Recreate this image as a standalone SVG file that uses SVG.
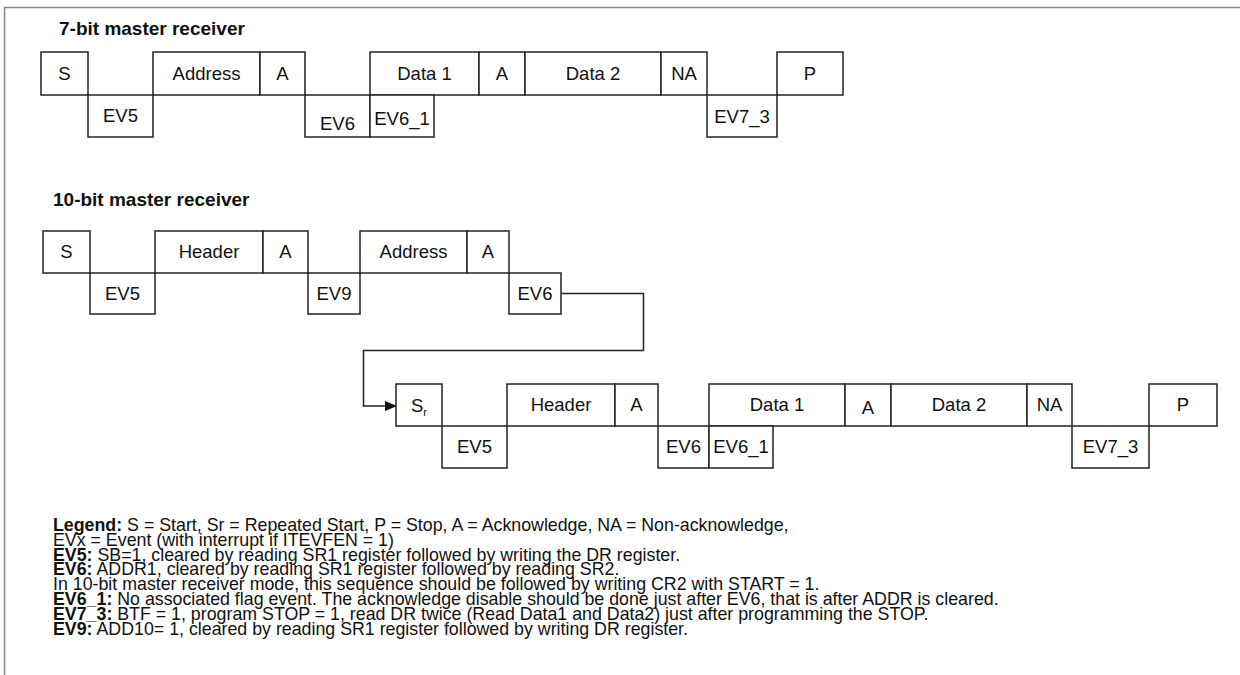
<svg xmlns="http://www.w3.org/2000/svg" width="1240" height="675" viewBox="0 0 1240 675">
<style>
text{font-family:"Liberation Sans",Arial,sans-serif;fill:#111}
.t{font-size:19px;font-weight:bold}
.b{fill:#fff;stroke:#222;stroke-width:1.5}
.l{font-size:18.5px;text-anchor:middle}
.g{font-size:17.8px}
.g tspan.k{font-weight:bold}
.c{fill:none;stroke:#222;stroke-width:1.5}
</style>
<defs>
<marker id="ah" markerWidth="12" markerHeight="10" refX="11" refY="5" orient="auto" markerUnits="userSpaceOnUse">
<path d="M0,0 L12,5 L0,10 z" fill="#111"/>
</marker>
</defs>
<rect x="0" y="0" width="1240" height="675" fill="#fff"/>
<path d="M4.5,675 V7.5 H1240" fill="none" stroke="#888" stroke-width="1.5"/>

<text class="t" x="59" y="35">7-bit master receiver</text>
<g id="r1">
<g id="r1-S"><rect class="b" x="41" y="52" width="47" height="43"/><text class="l" x="64.5" y="80">S</text></g>
<g id="r1-EV5"><rect class="b" x="88" y="95" width="65" height="42"/><text class="l" x="120.5" y="122">EV5</text></g>
<g id="r1-Address"><rect class="b" x="153" y="52" width="107" height="43"/><text class="l" x="206.5" y="80">Address</text></g>
<g id="r1-A1"><rect class="b" x="260" y="52" width="45" height="43"/><text class="l" x="282.5" y="80">A</text></g>
<g id="r1-EV6"><rect class="b" x="305" y="95" width="65" height="42"/><text class="l" x="337.5" y="130">EV6</text></g>
<g id="r1-Data1"><rect class="b" x="370" y="52" width="109" height="43"/><text class="l" x="424.5" y="80">Data 1</text></g>
<g id="r1-EV6_1"><rect class="b" x="370" y="95" width="64" height="42"/><text class="l" x="402" y="125">EV6_1</text></g>
<g id="r1-A2"><rect class="b" x="479" y="52" width="46" height="43"/><text class="l" x="502" y="80">A</text></g>
<g id="r1-Data2"><rect class="b" x="525" y="52" width="136" height="43"/><text class="l" x="593" y="80">Data 2</text></g>
<g id="r1-NA"><rect class="b" x="661" y="52" width="46" height="43"/><text class="l" x="684" y="80">NA</text></g>
<g id="r1-EV7_3"><rect class="b" x="707" y="95" width="70" height="42"/><text class="l" x="742" y="123">EV7_3</text></g>
<g id="r1-P"><rect class="b" x="777" y="52" width="66" height="43"/><text class="l" x="810" y="80">P</text></g>
</g>

<text class="t" x="53" y="206">10-bit master receiver</text>
<g id="r2">
<g id="r2-S"><rect class="b" x="43" y="231" width="47" height="42"/><text class="l" x="66.5" y="258">S</text></g>
<g id="r2-EV5"><rect class="b" x="90" y="273" width="65" height="41"/><text class="l" x="122.5" y="300">EV5</text></g>
<g id="r2-Header"><rect class="b" x="155" y="231" width="108" height="42"/><text class="l" x="209" y="258">Header</text></g>
<g id="r2-A1"><rect class="b" x="263" y="231" width="45" height="42"/><text class="l" x="285.5" y="258">A</text></g>
<g id="r2-EV9"><rect class="b" x="308" y="273" width="52" height="41"/><text class="l" x="334" y="300">EV9</text></g>
<g id="r2-Address"><rect class="b" x="360" y="231" width="107" height="42"/><text class="l" x="413.5" y="258">Address</text></g>
<g id="r2-A2"><rect class="b" x="467" y="231" width="42" height="42"/><text class="l" x="488" y="258">A</text></g>
<g id="r2-EV6"><rect class="b" x="509" y="273" width="52" height="41"/><text class="l" x="535" y="300">EV6</text></g>
</g>

<g id="connectors">
<path class="c" d="M561,293.5 H643.5 V350.5 H363.5 V406 H396" marker-end="url(#ah)"/>
</g>

<g id="r3">
<g id="r3-Sr"><rect class="b" x="396" y="384" width="46" height="42"/><text class="l" x="419" y="412">S<tspan font-size="11" dy="4">r</tspan></text></g>
<g id="r3-EV5"><rect class="b" x="442" y="426" width="65" height="42"/><text class="l" x="474.5" y="453">EV5</text></g>
<g id="r3-Header"><rect class="b" x="507" y="384" width="108" height="42"/><text class="l" x="561" y="411">Header</text></g>
<g id="r3-A1"><rect class="b" x="615" y="384" width="43" height="42"/><text class="l" x="636.5" y="411">A</text></g>
<g id="r3-EV6"><rect class="b" x="658" y="426" width="51" height="42"/><text class="l" x="683.5" y="453">EV6</text></g>
<g id="r3-Data1"><rect class="b" x="709" y="384" width="136" height="42"/><text class="l" x="777" y="411">Data 1</text></g>
<g id="r3-EV6_1"><rect class="b" x="709" y="426" width="64" height="42"/><text class="l" x="741" y="453">EV6_1</text></g>
<g id="r3-A2"><rect class="b" x="845" y="384" width="46" height="42"/><text class="l" x="868" y="414">A</text></g>
<g id="r3-Data2"><rect class="b" x="891" y="384" width="136" height="42"/><text class="l" x="959" y="411">Data 2</text></g>
<g id="r3-NA"><rect class="b" x="1027" y="384" width="45" height="42"/><text class="l" x="1049.5" y="411">NA</text></g>
<g id="r3-EV7_3"><rect class="b" x="1072" y="426" width="77" height="42"/><text class="l" x="1110.5" y="453">EV7_3</text></g>
<g id="r3-P"><rect class="b" x="1149" y="384" width="68" height="42"/><text class="l" x="1183" y="411">P</text></g>
</g>

<g id="legend">
<text class="g" x="53" y="531"><tspan class="k">Legend:</tspan> S = Start, Sr = Repeated Start, P = Stop, A = Acknowledge, NA = Non-acknowledge,</text>
<text class="g" x="53" y="545.8">EVx = Event (with interrupt if ITEVFEN = 1)</text>
<text class="g" x="53" y="560.6"><tspan class="k">EV5:</tspan> SB=1, cleared by reading SR1 register followed by writing the DR register.</text>
<text class="g" x="53" y="575.4"><tspan class="k">EV6:</tspan> ADDR1, cleared by reading SR1 register followed by reading SR2.</text>
<text class="g" x="53" y="590.2">In 10-bit master receiver mode, this sequence should be followed by writing CR2 with START = 1.</text>
<text class="g" x="53" y="605"><tspan class="k">EV6_1:</tspan> No associated flag event. The acknowledge disable should be done just after EV6, that is after ADDR is cleared.</text>
<text class="g" x="53" y="619.8"><tspan class="k">EV7_3:</tspan> BTF = 1, program STOP = 1, read DR twice (Read Data1 and Data2) just after programming the STOP.</text>
<text class="g" x="53" y="634.6"><tspan class="k">EV9:</tspan> ADD10= 1, cleared by reading SR1 register followed by writing DR register.</text>
</g>
</svg>
